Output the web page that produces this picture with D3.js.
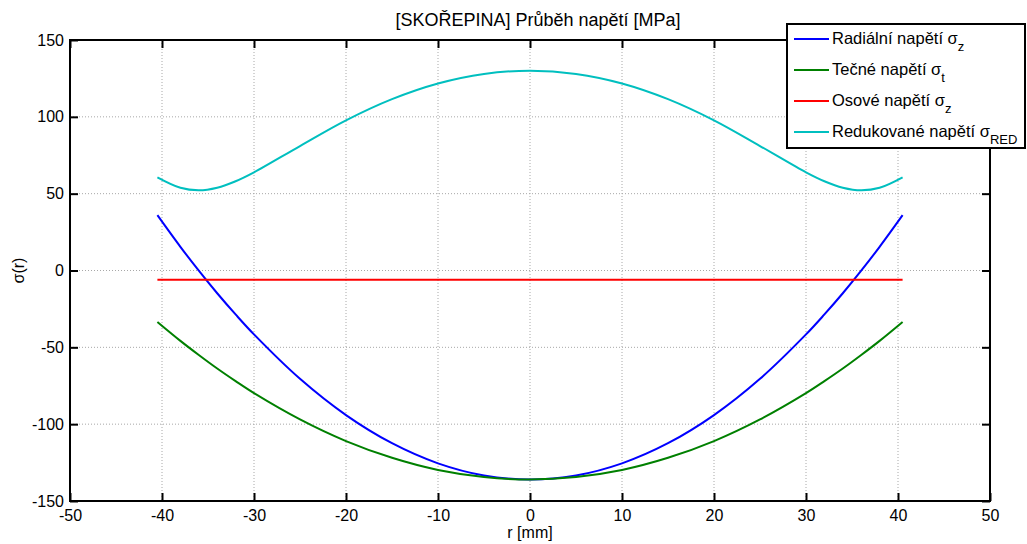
<!DOCTYPE html>
<html><head><meta charset="utf-8">
<script src="https://cdn.jsdelivr.net/npm/d3@7"></script>
<style>body{margin:0;background:#fff}svg{display:block}text{font-family:"Liberation Sans",Arial,sans-serif;fill:#000}</style>
</head><body>
<svg id="c" width="1027" height="544"></svg>
<script>
const rVals = [-40.5,-38,-36,-34,-32,-30,-25,-20,-15,-10,-5,0,5,10,15,20,25,30,32,34,36,38,40.5];
const radial = [36,15.4,-0.1,-14.8,-28.6,-41.6,-70.5,-94.1,-112.4,-125.5,-133.4,-136,-133.4,-125.5,-112.4,-94.1,-70.5,-41.6,-28.6,-14.8,-0.1,15.4,36];
const tangential = [-33.5,-45.8,-55,-63.8,-72,-79.8,-96.9,-111,-121.9,-129.8,-134.4,-136,-134.4,-129.8,-121.9,-111,-96.9,-79.8,-72,-63.8,-55,-45.8,-33.5];
const axial = [-6,-6,-6,-6,-6,-6,-6,-6,-6,-6,-6,-6,-6,-6,-6,-6,-6,-6,-6,-6,-6,-6,-6];
const reduced = [60.6,53.8,52.2,53.9,58.1,63.9,81,97.7,111.5,121.7,127.9,130,127.9,121.7,111.5,97.7,81,63.9,58.1,53.9,52.2,53.8,60.6];
const xTicks = [-50,-40,-30,-20,-10,0,10,20,30,40,50];
const yTicks = [-150,-100,-50,0,50,100,150];
const seriesNames = [["Radiální napětí ","z"],["Tečné napětí ","t"],["Osové napětí ","z"],["Redukované napětí ","RED"]];
const colors = ["#0000ff","#008000","#ff0000","#00bfbf"];
const data = [radial,tangential,axial,reduced];

const svg = d3.select("#c");
const L=70,R=990,T=40,B=501;
const x = d3.scaleLinear().domain([-50,50]).range([L,R]);
const y = d3.scaleLinear().domain([-150,150]).range([B,T]);
const fs = 16;
const fmt = d => String(d);

// grid
const g = svg.append("g");
g.selectAll(".gx").data(xTicks.slice(1,-1)).join("line")
 .attr("x1",d=>x(d)).attr("x2",d=>x(d)).attr("y1",T).attr("y2",B)
 .attr("stroke","#a8a8a8").attr("stroke-width",1).attr("stroke-dasharray","1,2");
g.selectAll(".gy").data(yTicks.slice(1,-1)).join("line")
 .attr("y1",d=>y(d)).attr("y2",d=>y(d)).attr("x1",L).attr("x2",R)
 .attr("stroke","#a8a8a8").attr("stroke-width",1).attr("stroke-dasharray","1,2");

// lines
const line = d3.line().x((d,i)=>x(rVals[i])).y(d=>y(d)).curve(d3.curveCatmullRom);
data.forEach((s,k)=>{
  svg.append("path").attr("d",line(s)).attr("fill","none").attr("stroke",colors[k]).attr("stroke-width",2);
});

// axes
const ax = svg.append("g");
const axB = d3.axisBottom(x).tickValues(xTicks).tickSize(-8).tickPadding(9).tickFormat(fmt);
const axL = d3.axisLeft(y).tickValues(yTicks).tickSize(-8).tickPadding(6).tickFormat(fmt);
const axT = d3.axisTop(x).tickValues(xTicks).tickSize(-8).tickFormat("");
const axR = d3.axisRight(y).tickValues(yTicks).tickSize(-8).tickFormat("");
ax.append("g").attr("transform",`translate(0,${B})`).call(axB);
ax.append("g").attr("transform",`translate(${L},0)`).call(axL);
ax.append("g").attr("transform",`translate(0,${T})`).call(axT);
ax.append("g").attr("transform",`translate(${R},0)`).call(axR);
ax.selectAll(".domain").remove();
ax.selectAll(".tick line").attr("stroke","#000").attr("stroke-width",2);
ax.selectAll(".tick text").attr("font-size",fs).attr("font-family","Liberation Sans, Arial, sans-serif").attr("fill","#000");
svg.append("rect").attr("x",L).attr("y",T).attr("width",R-L).attr("height",B-T).attr("fill","none").attr("stroke","#000").attr("stroke-width",2);

// labels
svg.append("text").attr("x",538).attr("y",26).attr("text-anchor","middle").attr("font-size",18).text("[SKOŘEPINA] Průběh napětí [MPa]");
svg.append("text").attr("x",(L+R)/2).attr("y",538).attr("text-anchor","middle").attr("font-size",fs).text("r [mm]");
svg.append("text").attr("transform",`translate(24,${(T+B)/2}) rotate(-90)`).attr("text-anchor","middle").attr("font-size",fs).text("σ(r)");

// legend
const lg = svg.append("g");
lg.append("rect").attr("x",787).attr("y",24).attr("width",238).attr("height",124).attr("fill","#fff").attr("stroke","#000").attr("stroke-width",2);
seriesNames.forEach((n,k)=>{
  const yy = 39 + k*31;
  lg.append("line").attr("x1",794).attr("x2",829).attr("y1",yy).attr("y2",yy).attr("stroke",colors[k]).attr("stroke-width",2);
  const t = lg.append("text").attr("x",832).attr("y",yy+5).attr("font-size",16.5);
  t.append("tspan").text(n[0]+"σ");
  t.append("tspan").attr("dy",7).attr("font-size",13).text(n[1]);
});
</script>
</body></html>
